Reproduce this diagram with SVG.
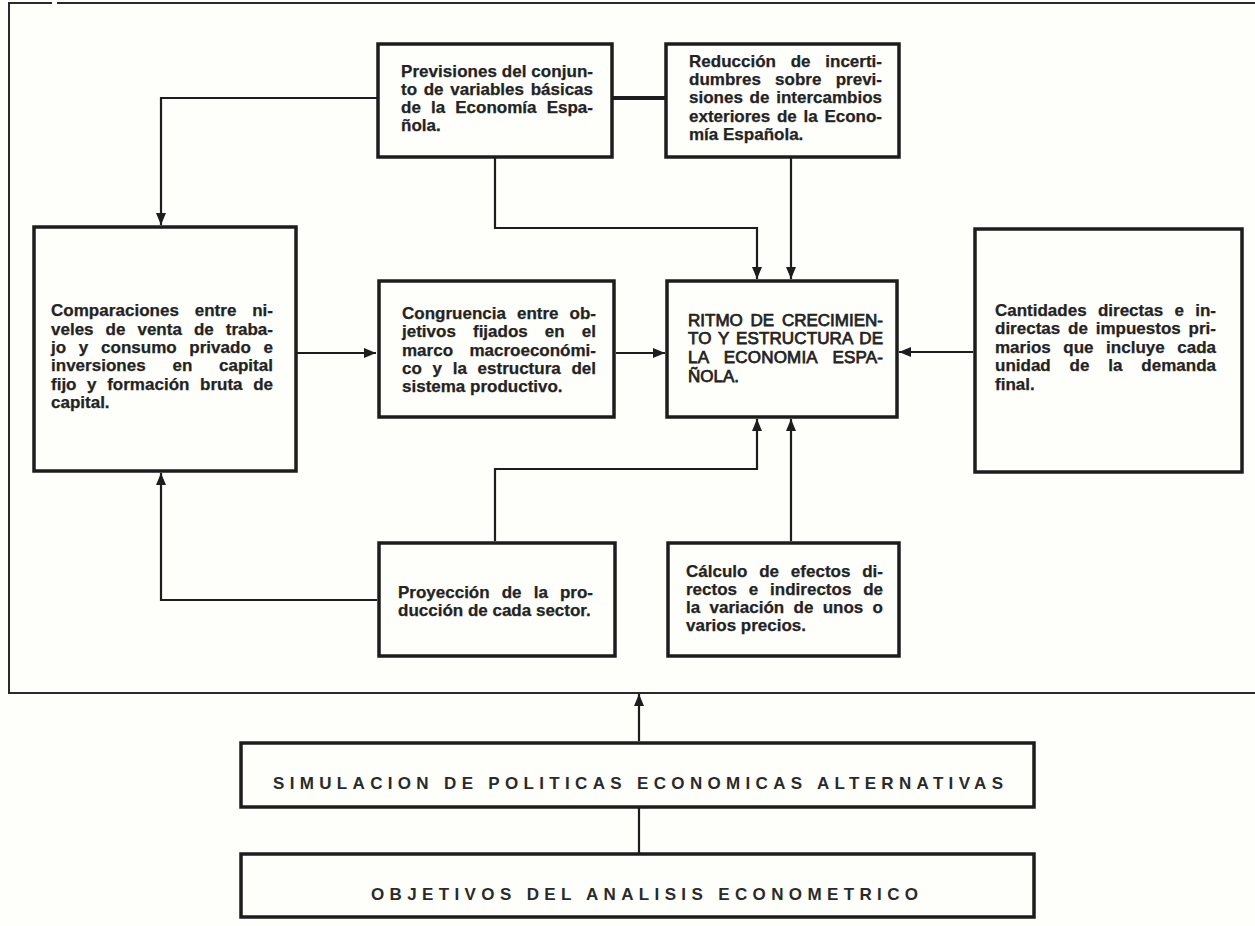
<svg xmlns="http://www.w3.org/2000/svg" width="1255" height="926" viewBox="0 0 1255 926">
  <style>
    .box { fill: none; stroke: #1d1d1d; stroke-width: 3.5; }
    .frame { fill: none; stroke: #2a2a2a; stroke-width: 2; }
    .link { fill: none; stroke: #1d1d1d; stroke-width: 2.2; }
    .thick { stroke-width: 4; }
    .t { font-family: "Liberation Sans", Arial, Helvetica, sans-serif; font-weight: bold; font-size: 17px; fill: #232323; stroke: #232323; stroke-width: 0.25; }
    .caps { font-family: "Liberation Sans", Arial, Helvetica, sans-serif; font-weight: normal; font-size: 17px; fill: #232323; stroke: #232323; stroke-width: 0.75; }
    .band { font-family: "Liberation Sans", Arial, Helvetica, sans-serif; font-weight: bold; font-size: 17px; fill: #2a2a2a; }
  </style>
  <defs>
    <marker id="ah" markerUnits="userSpaceOnUse" markerWidth="14" markerHeight="12" refX="12" refY="6" orient="auto">
      <path d="M0,1 L12,6 L0,11 Z" fill="#1d1d1d"/>
    </marker>
  </defs>

  <rect x="0" y="0" width="1255" height="926" fill="#fefefb"/>

  <!-- outer frame enclosing the model -->
  <path class="frame" d="M9,693 V3 H52 M57,3 H1255 M8,693 H1255"/>

  <!-- connectors -->
  <g id="connectors">
    <path class="link thick" d="M613,98 H665"/>
    <path class="link" d="M377,98 H161 V225" marker-end="url(#ah)"/>
    <path class="link" d="M297,353 H376" marker-end="url(#ah)"/>
    <path class="link" d="M616,353 H665" marker-end="url(#ah)"/>
    <path class="link" d="M973,352 H899" marker-end="url(#ah)"/>
    <path class="link" d="M495,158 V228 H757 V279" marker-end="url(#ah)"/>
    <path class="link" d="M791,158 V279" marker-end="url(#ah)"/>
    <path class="link" d="M495,541 V469 H757 V419" marker-end="url(#ah)"/>
    <path class="link" d="M791,541 V419" marker-end="url(#ah)"/>
    <path class="link" d="M377,600 H161 V473" marker-end="url(#ah)"/>
    <path class="link" d="M639,741 V694" marker-end="url(#ah)"/>
    <path class="link" d="M639,853 V808"/>
  </g>

  <g id="previsiones">
    <rect class="box" x="378" y="44" width="234" height="113"/>
    <text class="t" x="401" y="77" textLength="192" lengthAdjust="spacing">Previsiones del conjun-</text>
    <text class="t" x="401" y="95" word-spacing="2" textLength="192" lengthAdjust="spacing">to de variables básicas</text>
    <text class="t" x="401" y="113" word-spacing="5.4" textLength="192" lengthAdjust="spacing">de la Economía Espa-</text>
    <text class="t" x="401" y="131">ñola.</text>
  </g>

  <g id="reduccion">
    <rect class="box" x="666" y="44" width="233" height="113"/>
    <text class="t" x="689" y="67" word-spacing="10" textLength="193" lengthAdjust="spacing">Reducción de incerti-</text>
    <text class="t" x="689" y="85" word-spacing="9.5" textLength="193" lengthAdjust="spacing">dumbres sobre previ-</text>
    <text class="t" x="689" y="103" word-spacing="2" textLength="193" lengthAdjust="spacing">siones de intercambios</text>
    <text class="t" x="689" y="122" word-spacing="2" textLength="193" lengthAdjust="spacing">exteriores de la Econo-</text>
    <text class="t" x="689" y="140">mía Española.</text>
  </g>

  <g id="comparaciones">
    <rect class="box" x="34" y="227" width="262" height="244"/>
    <text class="t" x="51" y="316" word-spacing="11" textLength="222" lengthAdjust="spacing">Comparaciones entre ni-</text>
    <text class="t" x="51" y="335" word-spacing="7.3" textLength="222" lengthAdjust="spacing">veles de venta de traba-</text>
    <text class="t" x="51" y="353" word-spacing="8" textLength="222" lengthAdjust="spacing">jo y consumo privado e</text>
    <text class="t" x="51" y="371" word-spacing="22" textLength="222" lengthAdjust="spacing">inversiones en capital</text>
    <text class="t" x="51" y="390" word-spacing="5.9" textLength="222" lengthAdjust="spacing">fijo y formación bruta de</text>
    <text class="t" x="51" y="408">capital.</text>
  </g>

  <g id="congruencia">
    <rect class="box" x="379" y="281" width="235" height="136"/>
    <text class="t" x="402" y="319" word-spacing="6.3" textLength="194" lengthAdjust="spacing">Congruencia entre ob-</text>
    <text class="t" x="402" y="337" word-spacing="12.4" textLength="194" lengthAdjust="spacing">jetivos fijados en el</text>
    <text class="t" x="402" y="356" word-spacing="11.7" textLength="194" lengthAdjust="spacing">marco macroeconómi-</text>
    <text class="t" x="402" y="374" word-spacing="6" textLength="194" lengthAdjust="spacing">co y la estructura del</text>
    <text class="t" x="402" y="392">sistema productivo.</text>
  </g>

  <g id="ritmo">
    <rect class="box" x="667" y="281" width="230" height="136"/>
    <text class="caps" x="688" y="326" word-spacing="3" textLength="195" lengthAdjust="spacing">RITMO DE CRECIMIEN-</text>
    <text class="caps" x="688" y="344" word-spacing="2" textLength="195" lengthAdjust="spacing">TO Y ESTRUCTURA DE</text>
    <text class="caps" x="688" y="363" word-spacing="10.6" textLength="195" lengthAdjust="spacing">LA ECONOMIA ESPA-</text>
    <text class="caps" x="688" y="382">ÑOLA.</text>
  </g>

  <g id="cantidades">
    <rect class="box" x="975" y="229" width="267" height="243"/>
    <text class="t" x="995" y="316" word-spacing="6.6" textLength="221" lengthAdjust="spacing">Cantidades directas e in-</text>
    <text class="t" x="995" y="334" word-spacing="3.1" textLength="221" lengthAdjust="spacing">directas de impuestos pri-</text>
    <text class="t" x="995" y="353" word-spacing="7.8" textLength="221" lengthAdjust="spacing">marios que incluye cada</text>
    <text class="t" x="995" y="371" word-spacing="14.1" textLength="221" lengthAdjust="spacing">unidad de la demanda</text>
    <text class="t" x="995" y="390">final.</text>
  </g>

  <g id="proyeccion">
    <rect class="box" x="379" y="543" width="236" height="113"/>
    <text class="t" x="398" y="598" word-spacing="7.4" textLength="195" lengthAdjust="spacing">Proyección de la pro-</text>
    <text class="t" x="398" y="616">ducción de cada sector.</text>
  </g>

  <g id="calculo">
    <rect class="box" x="668" y="543" width="231" height="113"/>
    <text class="t" x="686" y="577" word-spacing="7.1" textLength="197" lengthAdjust="spacing">Cálculo de efectos di-</text>
    <text class="t" x="686" y="595" word-spacing="7.1" textLength="197" lengthAdjust="spacing">rectos e indirectos de</text>
    <text class="t" x="686" y="613" word-spacing="4.6" textLength="197" lengthAdjust="spacing">la variación de unos o</text>
    <text class="t" x="686" y="631">varios precios.</text>
  </g>

  <g id="simulacion">
    <rect class="box" x="241" y="743" width="793" height="64"/>
    <text class="band" x="273" y="789" textLength="730" lengthAdjust="spacing">SIMULACION DE POLITICAS ECONOMICAS ALTERNATIVAS</text>
  </g>

  <g id="objetivos">
    <rect class="box" x="241" y="854" width="793" height="63"/>
    <text class="band" x="371" y="900" textLength="547" lengthAdjust="spacing">OBJETIVOS DEL ANALISIS ECONOMETRICO</text>
  </g>
</svg>
